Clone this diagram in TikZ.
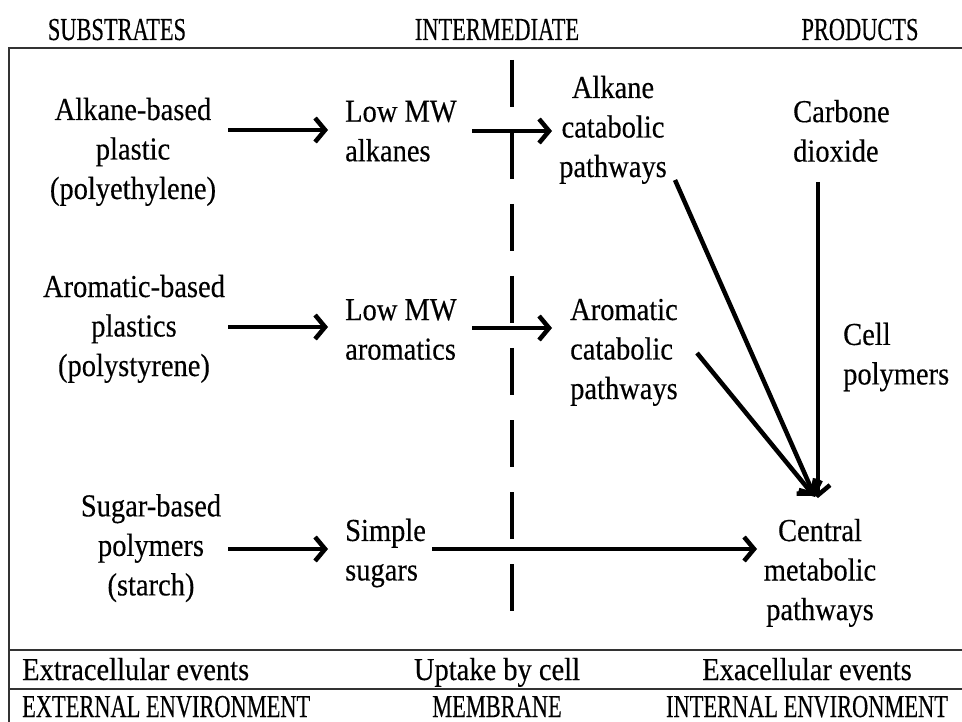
\documentclass[tikz,border=0pt]{standalone}
\usepackage{fontspec}
\setmainfont{Liberation Serif}[FakeStretch=0.89,FakeBold=0.3]
\newfontfamily\capsfont{Liberation Serif}[FakeStretch=0.70,FakeBold=0.3]
\usetikzlibrary{arrows.meta}
\begin{document}
\begin{tikzpicture}[x=1pt,y=-1pt,
  lbl/.style={font=\fontsize{32}{39.5}\selectfont, inner sep=0pt},
  caps/.style={font=\fontsize{32}{39.5}\selectfont\capsfont, inner sep=0pt},
  arr/.style={line width=4.5pt, -{Straight Barb[length=10pt,width=24pt]}},
  frame/.style={line width=1.5pt, black!80},
  membrane/.style={line width=4pt, dash pattern=on 47pt off 25pt}]
\useasboundingbox (0,0) rectangle (962,722);
% frame
\draw[frame] (962,48) -- (9,48) -- (9,722);
\draw[frame] (9,650) -- (962,650);
\draw[frame] (9,689) -- (962,689);
% membrane
\draw[membrane] (512,60) -- (512,620);
% headers
\node[caps, anchor=base] (h1) at (117,40) {SUBSTRATES};
\node[caps, anchor=base] (h2) at (497,40) {INTERMEDIATE};
\node[caps, anchor=base] (h3) at (860,40) {PRODUCTS};
% substrates
\node[lbl, align=center] (A1) at (133,151.6) {\strut Alkane-based\\\strut plastic\\\strut (polyethylene)};
\node[lbl, align=center] (A2) at (134,328.6) {\strut Aromatic-based\\\strut plastics\\\strut (polystyrene)};
\node[lbl, align=center] (A3) at (151,548) {\strut Sugar-based\\\strut polymers\\\strut (starch)};
% intermediates
\node[lbl, align=left, anchor=west] (I1) at (345,133.6) {\strut Low MW\\\strut alkanes};
\node[lbl, align=left, anchor=west] (I2) at (345,332) {\strut Low MW\\\strut aromatics};
\node[lbl, align=left, anchor=west] (I3) at (345,552.8) {\strut Simple\\\strut sugars};
% products
\node[lbl, align=center] (P1) at (613,129.6) {\strut Alkane\\\strut catabolic\\\strut pathways};
\node[lbl, align=left, anchor=west] (P2) at (570,351.6) {\strut Aromatic\\\strut catabolic\\\strut pathways};
\node[lbl, align=left, anchor=west] (C) at (793,134) {\strut Carbone\\\strut dioxide};
\node[lbl, align=left, anchor=west] (CP) at (843,356.8) {\strut Cell\\\strut polymers};
\node[lbl, align=center] (M) at (820,572.6) {\strut Central\\\strut metabolic\\\strut pathways};
% bottom rows
\node[lbl, anchor=base west] (b1) at (22,680) {Extracellular events};
\node[lbl, anchor=base] (b2) at (497,680) {Uptake by cell};
\node[lbl, anchor=base] (b3) at (807,680) {Exacellular events};
\node[caps, anchor=base west] (b4) at (22,717) {EXTERNAL ENVIRONMENT};
\node[caps, anchor=base] (b5) at (497,717) {MEMBRANE};
\node[caps, anchor=base] (b6) at (807,717) {INTERNAL ENVIRONMENT};
% arrows
\draw[arr] ([shift={(95,-21.6)}]A1.center) -- ([shift={(-17,-3.6)}]I1.west);
\draw[arr] ([shift={(127,-2.6)}]I1.west) -- ([shift={(-61,1.4)}]P1.center);
\draw[arr] ([shift={(94,-1.6)}]A2.center) -- ([shift={(-17,-5)}]I2.west);
\draw[arr] ([shift={(127,-4)}]I2.west) -- ([shift={(-18,-23.6)}]P2.west);
\draw[arr] ([shift={(77,1)}]A3.center) -- ([shift={(-17,-3.8)}]I3.west);
\draw[arr] ([shift={(87,-3.8)}]I3.west) -- ([shift={(-63,-23.6)}]M.center);
\draw[arr] ([shift={(25,48)}]C.west) -- ([shift={(-2,-74.6)}]M.center);
\draw[arr] ([shift={(62,50.4)}]P1.center) -- ([shift={(-5,-75.6)}]M.center);
\draw[arr] ([shift={(127,1.4)}]P2.west) -- ([shift={(-6,-76.6)}]M.center);
\end{tikzpicture}
\end{document}
